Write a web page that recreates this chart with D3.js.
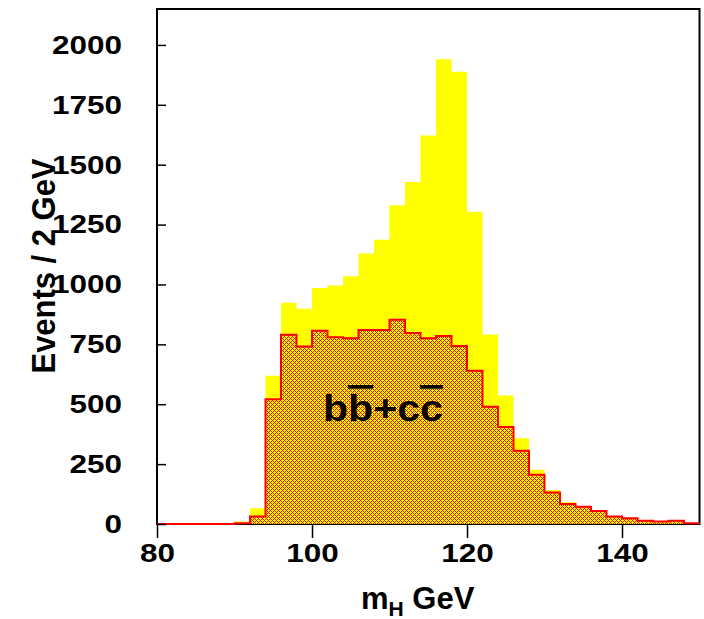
<!DOCTYPE html>
<meta charset='utf-8'>
<style>
html, body { margin: 0; padding: 0; background: #fff; }
text { font-family: 'Liberation Sans', Arial, sans-serif; font-weight: bold; fill: #000; }
</style>
<body>
<div id='chart'></div>
<script src='https://cdn.jsdelivr.net/npm/d3@7/dist/d3.min.js'></script>
<script>
// bin lower edges (GeV), 2 GeV wide
var binLow = [80,82,84,86,88,90,92,94,96,98,100,102,104,106,108,110,112,114,116,118,
              120,122,124,126,128,130,132,134,136,138,140,142,144,146,148];
// all events (yellow)
var total = [0,0,0,0,1,10,66,619,924,899,985,996,1034,1129,1187,1331,1428,1622,1940,1888,
             1304,791,536,358,226,142,91,75,56,32,26,16,11,17,4];
// b bbar + c cbar (hatched)
var bbcc = [0,0,0,0,0,3,31,521,790,741,807,780,775,810,810,853,797,775,785,743,
            640,490,405,306,206,131,84,72,54,31,24,14,10,14,3];
var xTicks = [80,100,120,140];
var yTicks = [0,250,500,750,1000,1250,1500,1750,2000];

var W = 704, H = 619;
var m = {left: 157, top: 9, right: 4.5, bottom: 95};

var svg = d3.select('#chart').append('svg')
    .attr('width', W).attr('height', H);

// pixel cross-hatch: red X on yellow, 4px tile
var defs = svg.append('defs');
var pat = defs.append('pattern')
    .attr('id', 'hatch')
    .attr('patternUnits', 'userSpaceOnUse')
    .attr('width', 4).attr('height', 4)
    .attr('shape-rendering', 'crispEdges');
pat.append('rect').attr('width', 4).attr('height', 4).attr('fill', '#ffff00');
[[0,0],[1,1],[2,2],[3,3],[3,1],[1,3]].forEach(function(p) {
  pat.append('rect').attr('x', p[0]).attr('y', p[1])
    .attr('width', 1).attr('height', 1).attr('fill', '#ff0000');
});

var x = d3.scaleLinear().domain([80, 150]).range([m.left, W - m.right]);
var y = d3.scaleLinear().domain([0, 2150]).range([H - m.bottom, m.top]);

// step data: each bin start plus closing edge
function steps(vals) {
  var pts = binLow.map(function(b, i) { return [b, vals[i]]; });
  pts.push([binLow[binLow.length - 1] + 2, vals[vals.length - 1]]);
  return pts;
}

var area = d3.area().curve(d3.curveStepAfter)
    .x(function(d) { return x(d[0]); })
    .y0(y(0)).y1(function(d) { return y(d[1]); });
var line = d3.line().curve(d3.curveStepAfter)
    .x(function(d) { return x(d[0]); })
    .y(function(d) { return y(d[1]); });

// frame
svg.append('rect')
    .attr('x', x(80)).attr('y', y(2150))
    .attr('width', x(150) - x(80)).attr('height', y(0) - y(2150))
    .attr('fill', 'none').attr('stroke', '#000').attr('stroke-width', 2);

svg.append('path').datum(steps(total))
    .attr('d', area).attr('fill', '#ffff00');

svg.append('path').datum(steps(bbcc))
    .attr('d', area).attr('fill', 'url(#hatch)');
svg.append('path').datum(steps(bbcc))
    .attr('d', line).attr('fill', 'none')
    .attr('stroke', '#ff0000').attr('stroke-width', 2);

// axes
var gx = svg.append('g').attr('transform', 'translate(0,' + y(0) + ')')
    .call(d3.axisBottom(x).tickValues(xTicks).tickSize(14).tickPadding(6).tickFormat(d3.format('d')));
gx.select('.domain').remove();
gx.selectAll('line').attr('stroke', '#000').attr('stroke-width', 1.5);
gx.selectAll('text').style('font-size', '26px')
    .attr('textLength', function(d) { return 17.5 * String(d).length; })
    .attr('lengthAdjust', 'spacingAndGlyphs');

var gy = svg.append('g').attr('transform', 'translate(' + x(80) + ',0)')
    .call(d3.axisRight(y).tickValues(yTicks).tickSize(9).tickFormat(d3.format('d')));
gy.select('.domain').remove();
gy.selectAll('line').attr('stroke', '#000').attr('stroke-width', 1.5);
gy.selectAll('text').style('font-size', '26px')
    .attr('text-anchor', 'end').attr('x', -35)
    .attr('textLength', function(d) { return 17.5 * String(d).length; })
    .attr('lengthAdjust', 'spacingAndGlyphs');

// labels
svg.append('text')
    .attr('transform', 'translate(55,' + 266 + ') rotate(-90)')
    .attr('text-anchor', 'middle')
    .style('font-size', '34px')
    .attr('textLength', 215).attr('lengthAdjust', 'spacingAndGlyphs')
    .text('Events / 2 GeV');

var xt = svg.append('text')
    .attr('x', 361).attr('y', 609)
    .style('font-size', '31px');
xt.append('tspan').text('m');
xt.append('tspan').attr('dy', 7).style('font-size', '21px').text('H');
xt.append('tspan').attr('dy', -7).text(' GeV');

var lab = svg.append('text')
    .attr('x', 383).attr('y', 421).attr('text-anchor', 'middle')
    .style('font-size', '37px')
    .attr('textLength', 120).attr('lengthAdjust', 'spacingAndGlyphs');
lab.append('tspan').text('b');
lab.append('tspan').style('text-decoration', 'overline').text('b');
lab.append('tspan').text('+c');
lab.append('tspan').style('text-decoration', 'overline').text('c');
</script>
</body>
